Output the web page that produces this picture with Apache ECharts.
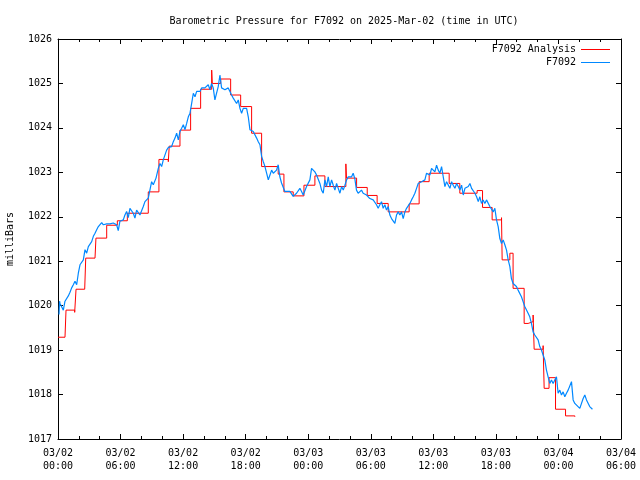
<!DOCTYPE html>
<html><head><meta charset="utf-8">
<script src="https://cdn.jsdelivr.net/npm/echarts@6/dist/echarts.min.js"></script>
<style>html,body{margin:0;padding:0;background:#fff}#c{width:640px;height:480px}</style>
</head><body><div id="c"></div>
<script>
const titleText = 'Barometric Pressure for F7092 on 2025-Mar-02 (time in UTC)';
const xTickLabels = ['03/02\n00:00','03/02\n06:00','03/02\n12:00','03/02\n18:00','03/03\n00:00','03/03\n06:00','03/03\n12:00','03/03\n18:00','03/04\n00:00','03/04\n06:00'];
const seriesNames = ['F7092 Analysis', 'F7092'];

// hours since 03/02 00:00 UTC
const analysisHours = [0,0.67,0.77,1.60,1.73,2.56,2.66,3.55,3.64,4.67,5.69,6.65,8.66,9.68,10.58,10.67,11.70,12.72,13.68,14.74,14.80,15.60,16.56,17.52,18.57,19.53,21.12,21.67,22.56,23.59,24.64,25.60,27.61,27.67,28.64,29.66,30.61,31.67,33.68,34.64,35.60,37.52,38.54,40.20,40.72,41.64,42.54,42.60,43.34,43.65,44.71,45.09,45.57,45.67,46.53,46.63,47.10,47.72,48.68,49.57];
const analysisMb = [1019.29,1019.27,1019.90,1019.85,1020.37,1020.34,1021.07,1021.05,1021.52,1021.81,1021.91,1022.08,1022.56,1023.29,1023.24,1023.59,1023.95,1024.44,1024.87,1025.30,1025.00,1025.10,1024.74,1024.48,1023.88,1023.13,1022.96,1022.56,1022.47,1022.71,1022.92,1022.68,1023.19,1022.87,1022.66,1022.48,1022.30,1022.11,1022.29,1022.79,1022.98,1022.75,1022.53,1022.59,1022.21,1021.93,1021.98,1021.03,1021.18,1020.39,1019.60,1019.64,1019.79,1019.02,1019.10,1018.14,1018.38,1017.67,1017.52,1017.50];

const obsHours = [0.10,0.15,0.19,0.35,0.51,0.67,0.83,0.99,1.15,1.31,1.47,1.63,1.79,1.95,2.11,2.27,2.43,2.59,2.75,2.91,3.07,3.23,3.39,3.55,3.71,3.87,4.03,4.19,4.35,4.51,4.67,4.99,5.30,5.62,5.78,5.94,6.26,6.42,6.58,6.74,6.90,7.22,7.38,7.54,7.70,7.86,8.02,8.18,8.34,8.66,
8.82,8.98,9.14,9.40,9.62,9.78,9.94,10.10,10.26,10.42,10.58,10.74,10.90,11.06,11.22,11.38,11.54,11.70,11.86,12.02,12.18,12.34,12.50,12.66,12.82,12.98,13.14,13.30,13.62,13.78,13.94,14.09,14.25,14.41,14.57,14.73,14.89,15.05,15.21,15.37,15.53,15.69,15.85,16.01,16.17,16.33,16.49,16.65,16.81,16.97,17.13,17.29,17.45,17.61,17.77,17.93,18.09,18.25,18.41,18.57,18.73,18.89,19.05,19.21,19.37,19.53,19.69,19.85,20.01,20.17,20.33,20.49,20.65,20.80,20.96,21.12,21.28,21.44,21.60,21.76,21.92,22.24,22.56,22.88,23.20,23.36,23.52,23.84,24.16,
24.32,24.48,24.64,24.80,24.96,25.12,25.28,25.44,25.60,25.76,25.92,26.08,26.24,26.40,26.56,26.72,26.88,27.04,27.20,27.36,27.52,27.68,27.84,28.00,28.16,28.31,28.47,28.63,28.79,28.95,29.11,29.27,29.43,29.59,29.75,29.91,30.07,30.23,30.39,30.55,30.71,30.87,31.03,31.19,31.35,31.51,31.67,31.83,31.99,32.15,32.31,32.47,32.63,32.79,32.95,33.11,33.27,33.43,33.59,33.75,33.91,34.07,34.23,34.39,34.55,34.71,34.87,35.03,35.19,35.35,35.51,35.67,35.83,35.99,36.15,36.31,36.47,36.63,36.79,36.95,37.11,37.27,37.43,37.59,37.75,37.91,38.07,38.23,38.39,38.55,38.71,38.87,39.03,39.19,39.35,39.51,39.67,39.83,39.99,40.15,40.31,
40.46,40.62,40.78,40.94,41.10,41.26,41.42,41.58,41.74,41.90,42.06,42.22,42.38,42.54,42.70,42.86,43.02,43.18,43.34,43.49,43.65,43.81,43.97,44.13,44.29,44.45,44.61,44.77,44.93,45.09,45.25,45.41,45.57,45.73,45.89,46.05,46.21,46.37,46.53,46.69,46.85,47.01,47.17,47.33,47.49,47.65,47.81,47.97,48.13,48.29,48.45,48.61,48.77,48.93,49.09,49.25,49.41,49.57,49.73,50.05,50.37,50.53,50.69,51.00,51.26];
const obsMb = [1019.80,1020.10,1020.05,1020.08,1019.90,1020.10,1020.12,1020.22,1020.30,1020.40,1020.47,1020.55,1020.47,1020.73,1020.92,1020.96,1021.03,1021.26,1021.18,1021.33,1021.37,1021.44,1021.56,1021.63,1021.71,1021.78,1021.82,1021.87,1021.82,1021.78,1021.84,1021.84,1021.86,1021.82,1021.69,1021.90,1021.93,1022.04,1022.12,1021.98,1022.19,1022.08,1021.97,1022.15,1022.12,1022.04,1022.08,1022.23,1022.34,1022.42,
1022.45,1022.79,1022.72,1022.87,1023.09,1023.20,1023.13,1023.28,1023.32,1023.50,1023.56,1023.54,1023.58,1023.69,1023.77,1023.88,1023.73,1023.92,1023.99,1024.07,1023.96,1024.10,1024.25,1024.33,1024.55,1024.78,1024.70,1024.82,1024.82,1024.90,1024.86,1024.90,1024.93,1024.97,1024.86,1025.00,1024.90,1024.63,1024.78,1024.93,1025.19,1024.90,1024.93,1024.86,1024.82,1024.90,1024.82,1024.74,1024.67,1024.63,1024.55,1024.63,1024.44,1024.33,1024.44,1024.40,1024.44,1024.25,1023.96,1023.92,1023.92,1023.88,1023.77,1023.69,1023.62,1023.36,1023.24,1023.13,1022.98,1022.83,1022.94,1023.05,1022.98,1022.94,1023.05,1023.17,1022.90,1022.76,1022.72,1022.57,1022.60,1022.57,1022.46,1022.53,1022.64,1022.57,1022.49,1022.68,1022.83,
1023.09,1023.09,1023.01,1022.94,1022.90,1022.75,1022.60,1022.53,1022.83,1022.68,1022.90,1022.68,1022.83,1022.71,1022.60,1022.75,1022.64,1022.53,1022.68,1022.60,1022.71,1022.83,1022.90,1022.94,1022.90,1022.98,1022.86,1022.60,1022.53,1022.56,1022.60,1022.53,1022.56,1022.49,1022.49,1022.41,1022.45,1022.38,1022.38,1022.27,1022.19,1022.27,1022.34,1022.19,1022.27,1022.15,1022.23,1022.04,1021.96,1022.00,1021.85,1022.04,1022.11,1022.04,1022.11,1021.96,1022.11,1022.19,1022.23,1022.30,1022.38,1022.45,1022.53,1022.64,1022.75,1022.79,1022.79,1022.75,1022.83,1022.98,1023.01,1022.94,1023.09,1023.13,1023.01,1023.16,1023.05,1022.98,1023.13,1022.90,1022.68,1022.79,1022.75,1022.64,1022.79,1022.71,1022.64,1022.75,1022.68,1022.60,1022.71,1022.49,1022.64,1022.60,1022.68,1022.75,1022.64,1022.68,1022.53,1022.45,1022.34,
1022.45,1022.30,1022.38,1022.30,1022.38,1022.38,1022.23,1022.26,1022.11,1022.19,1021.93,1021.78,1021.51,1021.40,1021.48,1021.37,1021.25,1021.03,1020.88,1020.61,1020.50,1020.46,1020.43,1020.35,1020.39,1020.20,1020.09,1019.98,1019.94,1019.83,1019.75,1019.60,1019.41,1019.34,1019.30,1019.23,1019.08,1019.00,1018.89,1018.78,1018.55,1018.40,1018.25,1018.33,1018.25,1018.33,1018.40,1018.03,1018.10,1017.99,1018.06,1017.95,1018.03,1018.10,1018.06,1018.29,1017.88,1017.80,1017.76,1017.69,1017.91,1017.99,1017.88,1017.73,1017.67];

const FONT = 'DejaVu Sans Mono';
const pair = (xs, ys) => xs.map((x, i) => [x, ys[i]]);

const chart = echarts.init(document.getElementById('c'), null, {renderer: 'canvas'});
const tickStyle = {inside: true, length: 5, lineStyle: {color: '#000', width: 1}};
const minorStyle = {show: true, splitNumber: 3, length: 3, lineStyle: {color: '#000', width: 1}};
const lineStyle = {show: true, onZero: false, lineStyle: {color: '#000', width: 1}};
chart.setOption({
  animation: false,
  backgroundColor: '#fff',
  title: {text: titleText, left: 339, top: 11, textAlign: 'center',
    textStyle: {fontFamily: FONT, fontSize: 10, fontWeight: 'normal', color: '#000'}},
  legend: {
    orient: 'vertical', right: 30, top: 43, align: 'right', padding: 0, itemGap: 0,
    itemWidth: 29, itemHeight: 1, icon: 'rect',
    textStyle: {fontFamily: FONT, fontSize: 10, color: '#000', lineHeight: 13},
    data: seriesNames
  },
  grid: {left: 58, right: 19, top: 39, bottom: 41, containLabel: false, outerBoundsMode: 'none'},
  xAxis: [{
    type: 'value', min: 0, max: 54, interval: 6, position: 'bottom',
    axisLine: lineStyle, axisTick: tickStyle, minorTick: minorStyle,
    splitLine: {show: false}, minorSplitLine: {show: false},
    axisLabel: {fontFamily: FONT, fontSize: 10, color: '#000', lineHeight: 13, margin: 8,
      formatter: v => xTickLabels[Math.round(v / 6)]}
  }, {
    type: 'value', min: 0, max: 54, interval: 6, position: 'top',
    axisLine: lineStyle, axisTick: tickStyle, minorTick: minorStyle,
    splitLine: {show: false}, axisLabel: {show: false}
  }],
  yAxis: [{
    type: 'value', min: 1017, max: 1026, interval: 1, position: 'left',
    name: 'milliBars', nameLocation: 'middle', nameGap: 43, nameRotate: 90,
    nameTextStyle: {fontFamily: FONT, fontSize: 10, color: '#000'},
    axisLine: lineStyle, axisTick: tickStyle, splitLine: {show: false},
    axisLabel: {fontFamily: FONT, fontSize: 10, color: '#000', margin: 6,
      formatter: v => String(v)}
  }, {
    type: 'value', min: 1017, max: 1026, interval: 1, position: 'right',
    axisLine: lineStyle, axisTick: tickStyle, splitLine: {show: false},
    axisLabel: {show: false}
  }],
  series: [{
    name: seriesNames[0], type: 'line', step: 'end', showSymbol: false, symbol: 'none',
    color: '#ff0000', lineStyle: {color: '#ff0000', width: 1},
    data: pair(analysisHours, analysisMb), z: 2
  }, {
    name: seriesNames[1], type: 'line', showSymbol: false, symbol: 'none',
    color: '#0088ff', lineStyle: {color: '#0088ff', width: 1.2},
    data: pair(obsHours, obsMb), z: 3
  }]
});
</script></body></html>
